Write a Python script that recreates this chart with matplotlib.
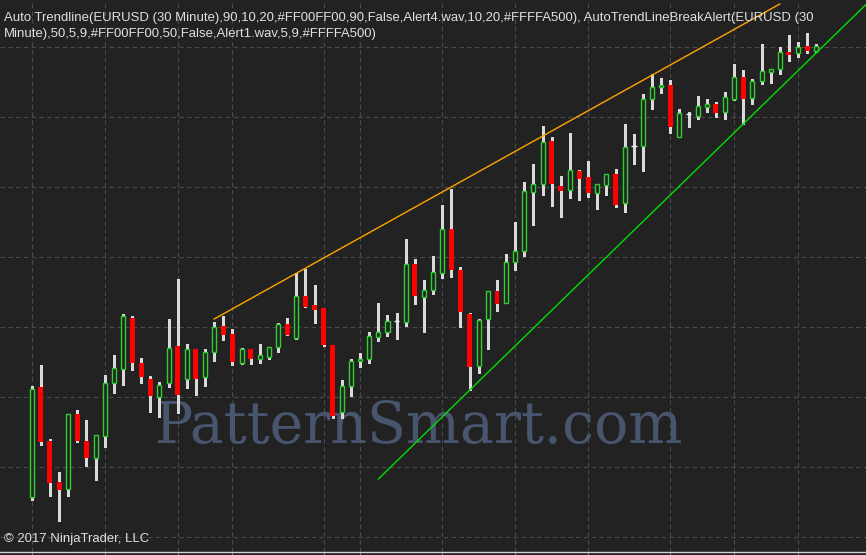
import matplotlib
matplotlib.use("Agg")
import matplotlib.pyplot as plt
from matplotlib.patches import Rectangle
from matplotlib.ticker import MultipleLocator, FixedLocator, NullFormatter

# ---------------- data (EURUSD 30 minute bars) ----------------
opens = [1.04970, 1.05080, 1.05026, 1.04985, 1.04978, 1.05053, 1.05026, 1.05009, 1.05031, 1.05084,
         1.05098, 1.05149, 1.05104, 1.05088, 1.05070, 1.05084, 1.05121, 1.05088, 1.05118, 1.05090,
         1.05115, 1.05141, 1.05133, 1.05104, 1.05118, 1.05108, 1.05110, 1.05120, 1.05143, 1.05129,
         1.05171, 1.05162, 1.05159, 1.05122, 1.05055, 1.05081, 1.05106, 1.05108, 1.05130, 1.05135,
         1.05146, 1.05145, 1.05203, 1.05170, 1.05177, 1.05194, 1.05238, 1.05197, 1.05153, 1.05101,
         1.05148, 1.05176, 1.05164, 1.05205, 1.05216, 1.05275, 1.05283, 1.05326, 1.05281, 1.05277,
         1.05296, 1.05290, 1.05274, 1.05282, 1.05293, 1.05264, 1.05321, 1.05321, 1.05368, 1.05380,
         1.05382, 1.05330, 1.05353, 1.05351, 1.05360, 1.05363, 1.05355, 1.05368, 1.05390, 1.05369,
         1.05386, 1.05395, 1.05398, 1.05415, 1.05414, 1.05421, 1.05416]
highs = [1.05081, 1.05102, 1.05028, 1.04995, 1.05053, 1.05057, 1.05047, 1.05032, 1.05092, 1.05112,
         1.05153, 1.05151, 1.05109, 1.05091, 1.05085, 1.05148, 1.05188, 1.05123, 1.05118, 1.05118,
         1.05145, 1.05151, 1.05138, 1.05119, 1.05118, 1.05123, 1.05120, 1.05144, 1.05149, 1.05194,
         1.05198, 1.05182, 1.05159, 1.05122, 1.05087, 1.05108, 1.05114, 1.05135, 1.05164, 1.05152,
         1.05154, 1.05228, 1.05208, 1.05187, 1.05211, 1.05262, 1.05278, 1.05200, 1.05154, 1.05148,
         1.05176, 1.05187, 1.05213, 1.05245, 1.05285, 1.05303, 1.05341, 1.05330, 1.05291, 1.05334,
         1.05297, 1.05306, 1.05283, 1.05293, 1.05298, 1.05343, 1.05333, 1.05373, 1.05393, 1.05389,
         1.05387, 1.05358, 1.05355, 1.05371, 1.05368, 1.05365, 1.05375, 1.05403, 1.05397, 1.05388,
         1.05423, 1.05398, 1.05420, 1.05432, 1.05425, 1.05434, 1.05423]
lows = [1.04967, 1.05022, 1.04971, 1.04946, 1.04971, 1.05025, 1.05001, 1.04987, 1.05020, 1.05074,
        1.05082, 1.05097, 1.05084, 1.05055, 1.05050, 1.05080, 1.05054, 1.05079, 1.05072, 1.05081,
        1.05106, 1.05127, 1.05102, 1.05103, 1.05103, 1.05104, 1.05108, 1.05115, 1.05132, 1.05128,
        1.05160, 1.05144, 1.05121, 1.05049, 1.05049, 1.05071, 1.05100, 1.05104, 1.05126, 1.05131,
        1.05128, 1.05141, 1.05163, 1.05135, 1.05173, 1.05189, 1.05190, 1.05140, 1.05077, 1.05094,
        1.05118, 1.05156, 1.05164, 1.05197, 1.05211, 1.05242, 1.05272, 1.05261, 1.05250, 1.05269,
        1.05267, 1.05270, 1.05258, 1.05272, 1.05260, 1.05255, 1.05303, 1.05296, 1.05358, 1.05374,
        1.05334, 1.05330, 1.05340, 1.05348, 1.05355, 1.05350, 1.05348, 1.05367, 1.05343, 1.05363,
        1.05383, 1.05384, 1.05393, 1.05406, 1.05410, 1.05414, 1.05415]
closes = [1.05078, 1.05025, 1.04984, 1.04977, 1.05053, 1.05026, 1.05009, 1.05032, 1.05084, 1.05099,
          1.05151, 1.05104, 1.05090, 1.05071, 1.05082, 1.05119, 1.05072, 1.05118, 1.05088, 1.05115,
          1.05140, 1.05132, 1.05105, 1.05118, 1.05108, 1.05112, 1.05120, 1.05143, 1.05132, 1.05171,
          1.05160, 1.05157, 1.05122, 1.05051, 1.05081, 1.05106, 1.05108, 1.05131, 1.05135, 1.05146,
          1.05146, 1.05203, 1.05171, 1.05177, 1.05195, 1.05238, 1.05197, 1.05155, 1.05100, 1.05147,
          1.05176, 1.05163, 1.05205, 1.05216, 1.05276, 1.05283, 1.05325, 1.05283, 1.05276, 1.05297,
          1.05288, 1.05274, 1.05283, 1.05293, 1.05262, 1.05320, 1.05321, 1.05368, 1.05380, 1.05382,
          1.05340, 1.05354, 1.05353, 1.05361, 1.05363, 1.05354, 1.05370, 1.05390, 1.05368, 1.05386,
          1.05396, 1.05398, 1.05415, 1.05412, 1.05420, 1.05416, 1.05421]

# time-axis tick positions (bar index) that carry vertical grid lines
time_ticks = [0, 8, 16, 22, 32, 36, 45, 53, 61, 70, 77, 84]

# trend lines (bar index, price)
upper_idx = [20, 82]
upper_price = [1.05148, 1.05463]
lower_idx = [38, 95]
lower_price = [1.04988, 1.05494]

title_lines = ["Auto Trendline(EURUSD (30 Minute),90,10,20,#FF00FF00,90,False,Alert4.wav,10,20,"
               "#FFFFA500), AutoTrendLineBreakAlert(EURUSD (30",
               "Minute),50,5,9,#FF00FF00,50,False,Alert1.wav,5,9,#FFFFA500)"]
watermark = "PatternSmart.com"
copyright_text = "\u00a9 2017 NinjaTrader, LLC"

# ---------------- style ----------------
BG = "#222222"
GRID = "#4a4a4a"
UP = "#32CD32"
DOWN = "#FF0000"
WICK = "#DADADA"

W, H = 866, 555
fig = plt.figure(figsize=(W / 100, H / 100), dpi=100)
fig.patch.set_facecolor(BG)
ax = fig.add_axes([0, 3.5 / H, 1, 551.5 / H])
ax.set_facecolor(BG)
ax.set_xlim(-3.475, 91.45)
ax.set_ylim(1.049155, 1.05467)

for s in ("top", "left", "right"):
    ax.spines[s].set_visible(False)
ax.spines["bottom"].set_color("#d0d0d0")
ax.spines["bottom"].set_linewidth(1.0)

ax.yaxis.set_major_locator(MultipleLocator(0.0007))
ax.xaxis.set_major_locator(FixedLocator(time_ticks))
ax.xaxis.set_major_formatter(NullFormatter())
ax.yaxis.set_major_formatter(NullFormatter())
ax.tick_params(axis="y", length=0)
ax.tick_params(axis="x", direction="out", length=3, color="#808080", width=0.75)
ax.grid(True, color=GRID, linewidth=0.8, linestyle=(0, (4, 3)))
ax.set_axisbelow(True)

# watermark
ax.text(155 / W, 1 - 443 / 551.5, watermark, transform=ax.transAxes,
        fontsize=41, family="DejaVu Serif", color="#48556e", ha="left", va="baseline",
        zorder=0.8)

# candles
n = len(opens)
x = list(range(n))
ax.vlines(x, lows, highs, colors=WICK, linewidth=1.0, zorder=2, antialiased=False)
for i in range(n):
    o, c = opens[i], closes[i]
    if c > o:
        ax.add_patch(Rectangle((i - 0.22, o), 0.44, c - o, facecolor=BG,
                               edgecolor=UP, linewidth=1.0, zorder=3))
    elif c < o:
        ax.add_patch(Rectangle((i - 0.27, c), 0.54, o - c, facecolor=DOWN,
                               edgecolor="none", linewidth=0, zorder=3))
    else:
        ax.hlines(o, i - 0.3, i + 0.3, colors="#f0f0f0", linewidth=1.0, zorder=3)

# trend lines
ax.plot(upper_idx, upper_price, color="#FFA500", linewidth=1.0, zorder=4)
ax.plot(lower_idx, lower_price, color="#00E000", linewidth=1.0, zorder=4)

# texts
for k, line in enumerate(title_lines):
    fig.text(4 / W, 1 - (20.5 + 16.3 * k) / H, line, fontsize=9.45, family="Liberation Sans",
             color="#e0e0e0", ha="left", va="baseline")
fig.text(4 / W, 1 - 541.7 / H, copyright_text, fontsize=9.45, family="Liberation Sans",
         color="#e0e0e0", ha="left", va="baseline")

fig.savefig("out.png", dpi=100, facecolor=BG)
